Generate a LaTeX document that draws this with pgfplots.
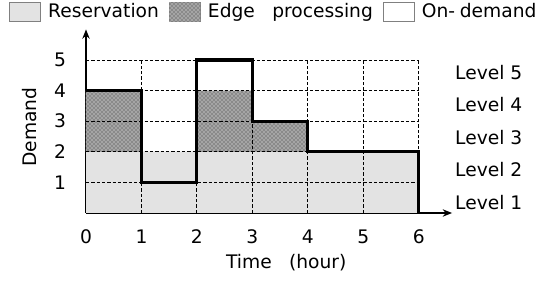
\documentclass[border=0pt]{standalone}
\usepackage{fontspec}
\setmainfont{DejaVu Sans}
\usepackage{pgfplots}
\pgfplotsset{compat=1.18}
\usetikzlibrary{patterns,arrows.meta}
\begin{document}
\fontsize{14}{17}\selectfont
\begin{tikzpicture}[font=\fontsize{14}{17}\selectfont]
\begin{axis}[
  x=41.6pt, y=22.95pt,
  xmin=0, xmax=6.6, ymin=0, ymax=6.0,
  clip=false,
  axis x line=bottom, axis y line=left,
  axis line style={line width=1.3pt, -{Stealth[length=7pt,width=5.5pt]}},
  xtick={0,1,2,3,4,5,6}, ytick={1,2,3,4,5},
  major tick length=0pt,
  tick style={draw=none},
  /pgf/number format/assume math mode=true,
  xticklabel style={anchor=center, yshift=-18pt},
  yticklabel style={anchor=center, xshift=-19.5pt},
  xlabel={Time\hspace{13pt}(hour)},
  xlabel style={at={(axis description cs:0.547,-0.269)}, anchor=center},
  ylabel={Demand},
  ylabel style={at={(axis description cs:-0.155,0.468)}, anchor=center},
  unbounded coords=jump,
  legend columns=-1,
  legend style={draw=none, fill=none, inner sep=0pt, outer sep=0pt,
    nodes={inner sep=3.5pt},
    at={(axis description cs:-0.2100,1.166)}, anchor=north west,
    /tikz/every odd column/.append style={column sep=2pt},
    /tikz/every even column/.append style={column sep=4pt}},
  legend image code/.code={\draw[#1, draw=black!50, line width=0.8pt] (0pt,-7pt) rectangle (23pt,7pt);},
]
% Reservation
\addplot[fill=black!11, draw=none] coordinates {(0,0) (0,2) (6,2) (6,0)} -- cycle;
\addlegendentry{Reservation}
% Edge processing
\addplot[fill=black!46, draw=none, postaction={pattern=crosshatch dots, pattern color=white}]
  coordinates {(0,2) (0,4) (1,4) (1,2) (2,2) (2,4) (3,4) (3,3) (4,3) (4,2)} -- cycle;
\addlegendentry{Edge\hspace{13pt}processing}
% On-demand
\addlegendimage{fill=white, draw=none}
\addlegendentry{On-\hspace{3.5pt}demand}
% grid
\addplot[forget plot, black, line width=0.75pt, dash pattern=on 2.4pt off 1.6pt]
  coordinates {(0,1) (6,1) (nan,nan) (0,2) (6,2) (nan,nan) (0,3) (6,3) (nan,nan)
               (0,4) (6,4) (nan,nan) (0,5) (6,5) (nan,nan)
               (1,0) (1,5) (nan,nan) (2,0) (2,5) (nan,nan) (3,0) (3,5) (nan,nan)
               (4,0) (4,5) (nan,nan) (5,0) (5,5) (nan,nan) (6,0) (6,5)};
% demand
\addplot[forget plot, black, line width=2.3pt, line join=miter]
  coordinates {(0,4) (1,4) (1,1) (2,1) (2,5) (3,5) (3,3) (4,3) (4,2) (6,2) (6,0)};
% level labels
\node[anchor=west] at (axis cs:6.54,4.58) {Level 5};
\node[anchor=west] at (axis cs:6.54,3.56) {Level 4};
\node[anchor=west] at (axis cs:6.54,2.48) {Level 3};
\node[anchor=west] at (axis cs:6.54,1.41) {Level 2};
\node[anchor=west] at (axis cs:6.54,0.33) {Level 1};
\end{axis}
\pgfresetboundingbox
\path[use as bounding box] (-64.5pt,-50.25pt) rectangle (343.5pt,159.75pt);
\end{tikzpicture}
\end{document}
